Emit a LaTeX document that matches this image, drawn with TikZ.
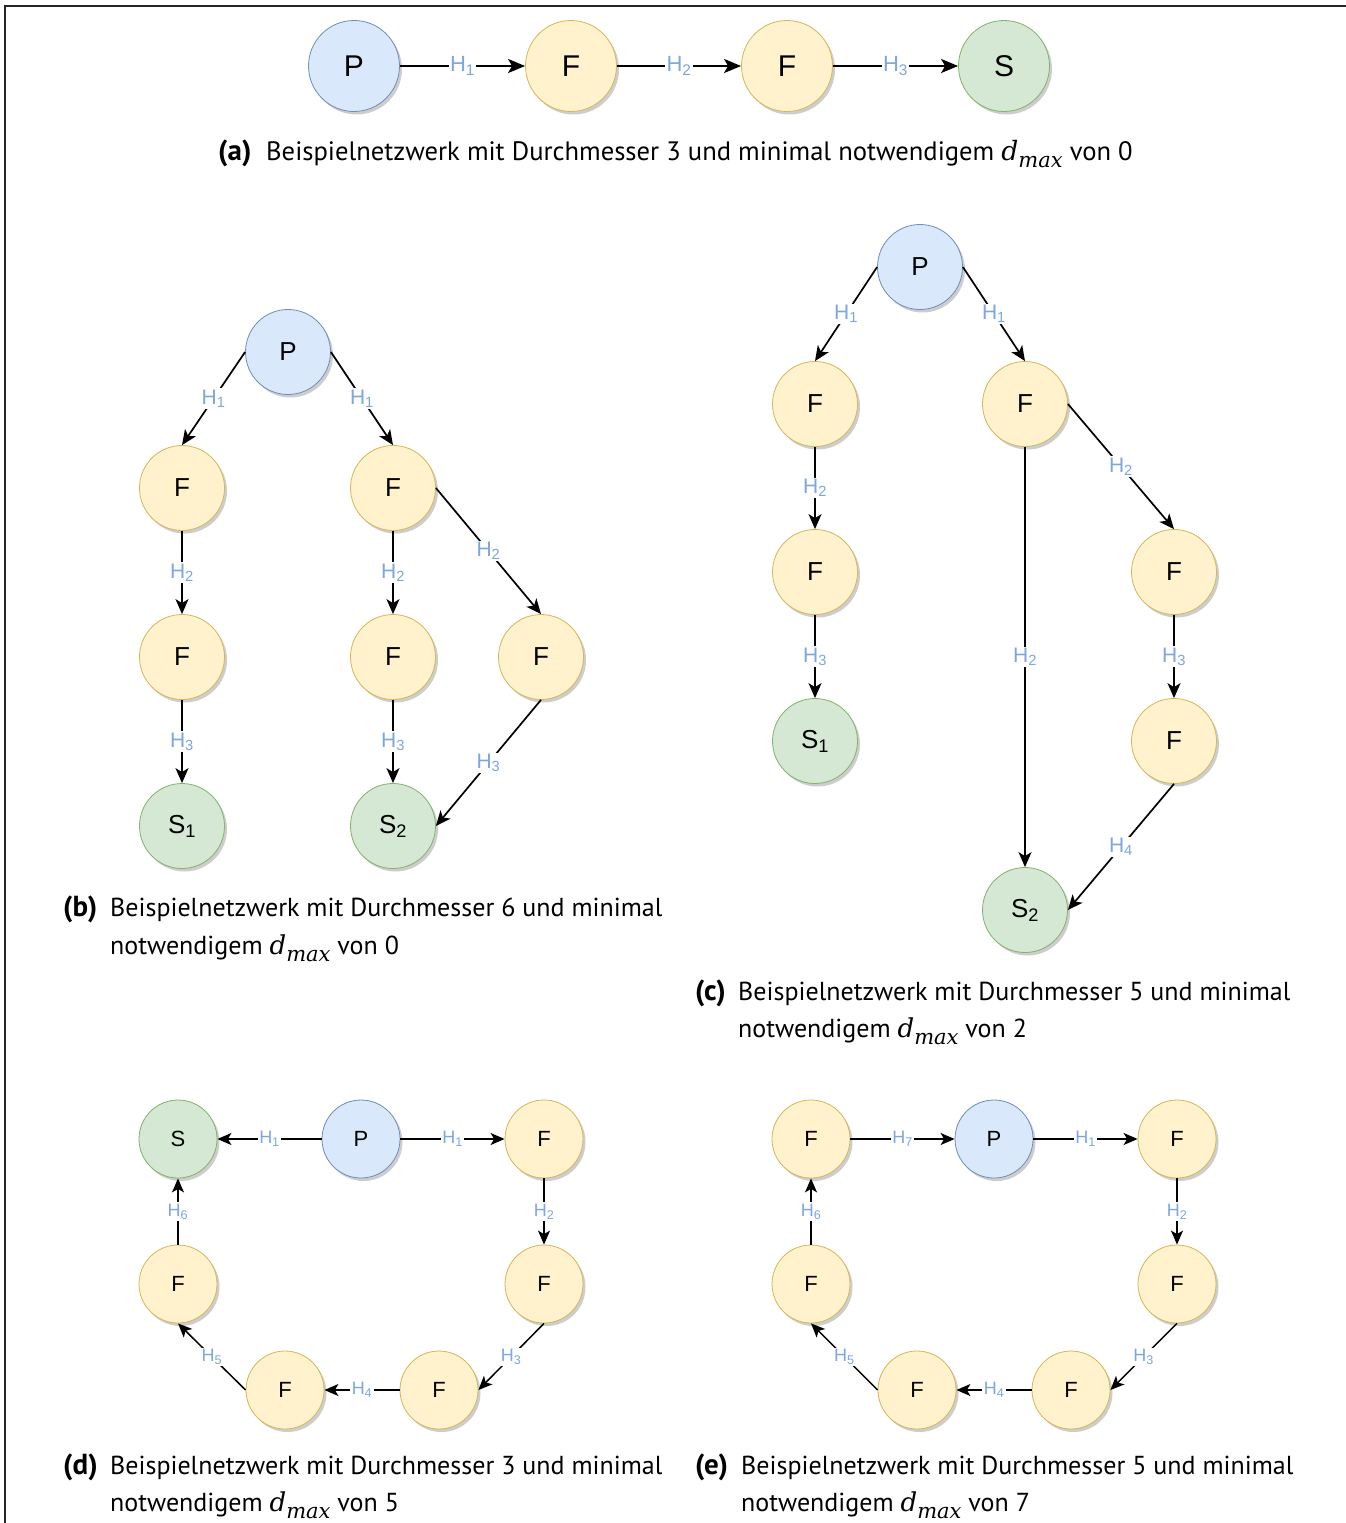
\documentclass[tikz,border=0pt]{standalone}
\usepackage{fontspec}
\setmainfont{PT Sans}
\newfontfamily\nodefont{Liberation Sans}
\newfontfamily\symfont{DejaVu Serif}
\usetikzlibrary{arrows.meta,shadows}

\definecolor{pfill}{HTML}{DAE8FC}\definecolor{pline}{HTML}{6C8EBF}
\definecolor{ffill}{HTML}{FFF2CC}\definecolor{fline}{HTML}{D6B656}
\definecolor{sfill}{HTML}{D5E8D4}\definecolor{sline}{HTML}{82B366}
\definecolor{hblue}{HTML}{7EA6E0}

% italic d with subscript "max"
\newcommand{\dmax}{{\symfont\itshape d\raisebox{-0.3em}{\fontsize{21}{21}\selectfont max}}}

\begin{document}
\begin{tikzpicture}[x=1pt,y=-1pt,
  base/.style={circle, line width=0.8pt, inner sep=0pt,
    minimum size={2*\nrad}, font=\nodefont\ndsize,
    drop shadow={shadow xshift=2.5pt, shadow yshift=-3pt, opacity=0.28, fill=black!70}},
  pnode/.style={base, fill=pfill, draw=pline},
  fnode/.style={base, fill=ffill, draw=fline},
  snode/.style={base, fill=sfill, draw=sline},
  hlab/.style={fill=white, text=hblue, inner sep=1.5pt, font=\nodefont\hlsize},
  conn/.style={draw=black, -{Stealth[length=14pt,width=12pt,inset=3.5pt]}},
  captag/.style={inner sep=0pt, anchor=base west, font=\fontsize{29}{32}\selectfont\bfseries},
  captext/.style={inner sep=0pt, anchor=base west, font=\fontsize{26}{32}\selectfont}]

\useasboundingbox (0,0) rectangle (1346,1523);
\fill[white] (0,0) rectangle (1346,1523);
\draw[line width=2.5pt, black!85] (5,1523) -- (5,6) -- (1346,6);

% ---------- (a) ----------
\begin{scope}[line width=2pt, conn/.append style={-{Stealth[length=17pt,width=14pt,inset=4pt]}}]
\def\nrad{45.5pt}\def\ndsize{\fontsize{30}{30}\selectfont}\def\hlsize{\fontsize{22}{22}\selectfont}
\node[pnode] (aP) at (354,66) {P};
\node[fnode] (aF1) at (571,66) {F};
\node[fnode] (aF2) at (787,66) {F};
\node[snode] (aS) at (1004,66) {S};
\draw[conn] (aP) -- node[hlab] {H\textsubscript{1}} (aF1);
\draw[conn] (aF1) -- node[hlab] {H\textsubscript{2}} (aF2);
\draw[conn] (aF2) -- node[hlab] {H\textsubscript{3}} (aS);
\end{scope}
\node[captag] (capAt) at (218,160) {(a)};
\node[captext, font=\fontsize{26.6}{32}\selectfont] (capA) at (266,160) {Beispielnetzwerk mit Durchmesser 3 und minimal notwendigem \dmax{} von 0};

% ---------- (b) ----------
\begin{scope}[line width=1.7pt, conn/.append style={-{Stealth[length=15pt,width=13pt,inset=4pt]}}]
\def\nrad{42.5pt}\def\ndsize{\fontsize{26}{26}\selectfont}\def\hlsize{\fontsize{21}{21}\selectfont}
\node[pnode] (bP) at (288,352) {P};
\node[fnode] (bF1) at (182,488) {F};
\node[fnode] (bF2) at (393,488) {F};
\node[fnode] (bF3) at (182,657) {F};
\node[fnode] (bF4) at (393,657) {F};
\node[fnode] (bF5) at (541,657) {F};
\node[snode] (bS1) at (182,826) {S\textsubscript{1}};
\node[snode] (bS2) at (393,826) {S\textsubscript{2}};
\draw[conn] (bP.west) -- node[hlab] {H\textsubscript{1}} (bF1.north);
\draw[conn] (bP.east) -- node[hlab] {H\textsubscript{1}} (bF2.north);
\draw[conn] (bF1) -- node[hlab] {H\textsubscript{2}} (bF3);
\draw[conn] (bF2) -- node[hlab] {H\textsubscript{2}} (bF4);
\draw[conn] (bF2.east) -- node[hlab] {H\textsubscript{2}} (bF5.north);
\draw[conn] (bF3) -- node[hlab] {H\textsubscript{3}} (bS1);
\draw[conn] (bF4) -- node[hlab] {H\textsubscript{3}} (bS2);
\draw[conn] (bF5.south) -- node[hlab] {H\textsubscript{3}} (bS2.east);
\end{scope}
\node[captag] (capBt) at (63,916) {(b)};
\node[captext] (capB1) at (110,916) {Beispielnetzwerk mit Durchmesser 6 und minimal};
\node[captext] (capB2) at (110,954) {notwendigem \dmax{} von 0};

% ---------- (c) ----------
\begin{scope}[line width=1.7pt, conn/.append style={-{Stealth[length=15pt,width=13pt,inset=4pt]}}]
\def\nrad{42.5pt}\def\ndsize{\fontsize{26}{26}\selectfont}\def\hlsize{\fontsize{21}{21}\selectfont}
\node[pnode] (cP) at (920,267) {P};
\node[fnode] (cF1) at (815,404) {F};
\node[fnode] (cF2) at (1025,404) {F};
\node[fnode] (cF3) at (815,572) {F};
\node[snode] (cS1) at (815,741) {S\textsubscript{1}};
\node[fnode] (cF4) at (1174,572) {F};
\node[fnode] (cF5) at (1174,741) {F};
\node[snode] (cS2) at (1025,910) {S\textsubscript{2}};
\draw[conn] (cP.west) -- node[hlab] {H\textsubscript{1}} (cF1.north);
\draw[conn] (cP.east) -- node[hlab] {H\textsubscript{1}} (cF2.north);
\draw[conn] (cF1) -- node[hlab] {H\textsubscript{2}} (cF3);
\draw[conn] (cF3) -- node[hlab] {H\textsubscript{3}} (cS1);
\draw[conn] (cF2.east) -- node[hlab] {H\textsubscript{2}} (cF4.north);
\draw[conn] (cF2) -- node[hlab] {H\textsubscript{2}} (cS2);
\draw[conn] (cF4) -- node[hlab] {H\textsubscript{3}} (cF5);
\draw[conn] (cF5.south) -- node[hlab] {H\textsubscript{4}} (cS2.east);
\end{scope}
\node[captag] (capCt) at (695,1000) {(c)};
\node[captext] (capC1) at (738,1000) {Beispielnetzwerk mit Durchmesser 5 und minimal};
\node[captext] (capC2) at (738,1037) {notwendigem \dmax{} von 2};

% ---------- (d) ----------
\begin{scope}[line width=1.5pt]
\def\nrad{39pt}\def\ndsize{\fontsize{22}{22}\selectfont}\def\hlsize{\fontsize{18}{18}\selectfont}
\node[snode] (dS) at (178,1139) {S};
\node[pnode] (dP) at (361,1139) {P};
\node[fnode] (dF1) at (544,1139) {F};
\node[fnode] (dF2) at (544,1284) {F};
\node[fnode] (dF3) at (439,1390) {F};
\node[fnode] (dF4) at (285,1390) {F};
\node[fnode] (dF5) at (178,1284) {F};
\draw[conn] (dP) -- node[hlab] {H\textsubscript{1}} (dS);
\draw[conn] (dP) -- node[hlab] {H\textsubscript{1}} (dF1);
\draw[conn] (dF1) -- node[hlab] {H\textsubscript{2}} (dF2);
\draw[conn] (dF2.south) -- node[hlab] {H\textsubscript{3}} (dF3.east);
\draw[conn] (dF3) -- node[hlab] {H\textsubscript{4}} (dF4);
\draw[conn] (dF4.west) -- node[hlab] {H\textsubscript{5}} (dF5.south);
\draw[conn] (dF5) -- node[hlab] {H\textsubscript{6}} (dS);
\end{scope}
\node[captag] (capDt) at (63,1474) {(d)};
\node[captext] (capD1) at (110,1474) {Beispielnetzwerk mit Durchmesser 3 und minimal};
\node[captext] (capD2) at (110,1511) {notwendigem \dmax{} von 5};

% ---------- (e) ----------
\begin{scope}[line width=1.5pt]
\def\nrad{39pt}\def\ndsize{\fontsize{22}{22}\selectfont}\def\hlsize{\fontsize{18}{18}\selectfont}
\node[fnode] (eF0) at (811,1139) {F};
\node[pnode] (eP) at (994,1139) {P};
\node[fnode] (eF1) at (1177,1139) {F};
\node[fnode] (eF2) at (1177,1284) {F};
\node[fnode] (eF3) at (1071,1390) {F};
\node[fnode] (eF4) at (917,1390) {F};
\node[fnode] (eF5) at (811,1284) {F};
\draw[conn] (eF0) -- node[hlab] {H\textsubscript{7}} (eP);
\draw[conn] (eP) -- node[hlab] {H\textsubscript{1}} (eF1);
\draw[conn] (eF1) -- node[hlab] {H\textsubscript{2}} (eF2);
\draw[conn] (eF2.south) -- node[hlab] {H\textsubscript{3}} (eF3.east);
\draw[conn] (eF3) -- node[hlab] {H\textsubscript{4}} (eF4);
\draw[conn] (eF4.west) -- node[hlab] {H\textsubscript{5}} (eF5.south);
\draw[conn] (eF5) -- node[hlab] {H\textsubscript{6}} (eF0);
\end{scope}
\node[captag] (capEt) at (695,1474) {(e)};
\node[captext] (capE1) at (741,1474) {Beispielnetzwerk mit Durchmesser 5 und minimal};
\node[captext] (capE2) at (741,1511) {notwendigem \dmax{} von 7};

\end{tikzpicture}
\end{document}
